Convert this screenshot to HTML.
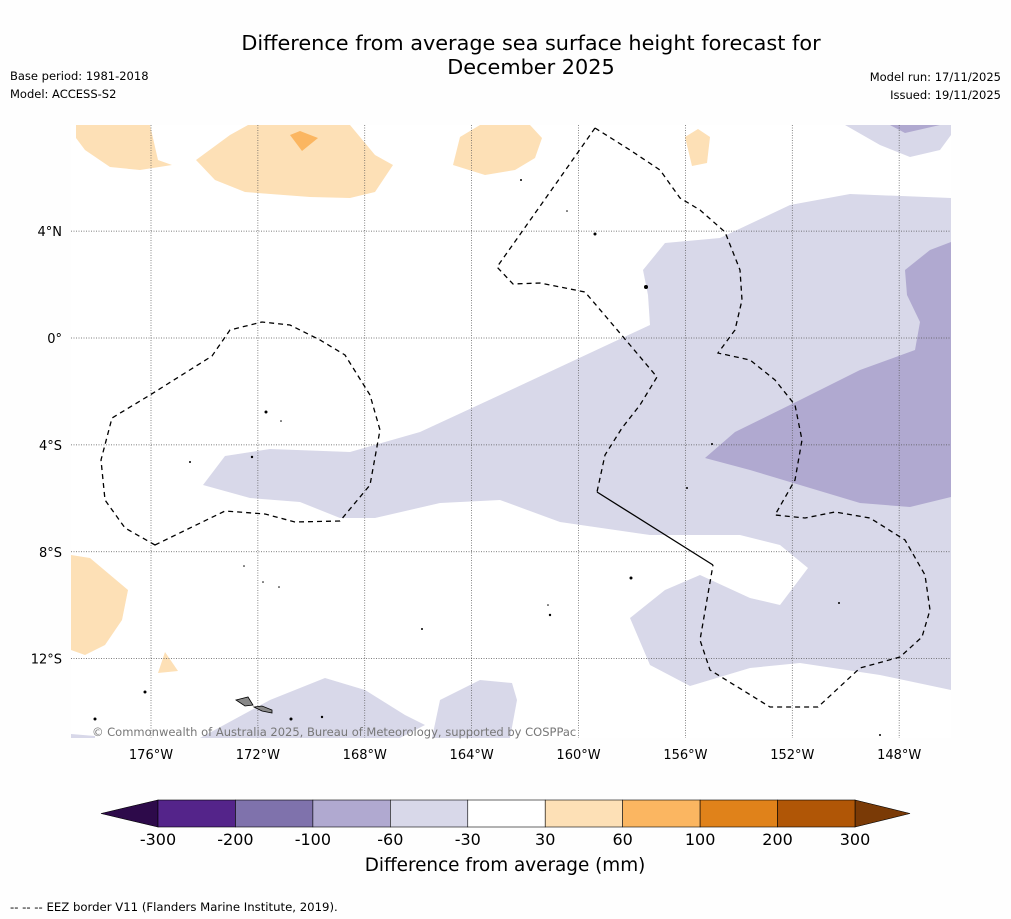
<!DOCTYPE html>
<html><head><meta charset="utf-8">
<style>
body{margin:0;background:#fefefe;font-family:"DejaVu Sans","Liberation Sans",sans-serif;}
svg{display:block;font-family:"DejaVu Sans","Liberation Sans",sans-serif;}
</style></head>
<body>
<svg width="1011" height="919" xmlns="http://www.w3.org/2000/svg">
<rect width="1011" height="919" fill="#fefefe"/>
<text x="531" y="50" font-size="20.8" text-anchor="middle" fill="#000">Difference from average sea surface height forecast for</text>
<text x="531" y="74" font-size="20.8" text-anchor="middle" fill="#000">December 2025</text>
<text x="10" y="80" font-size="11.5">Base period: 1981-2018</text>
<text x="10" y="98" font-size="11.5">Model: ACCESS-S2</text>
<text x="1001" y="81" font-size="11.5" text-anchor="end">Model run: 17/11/2025</text>
<text x="1001" y="99" font-size="11.5" text-anchor="end">Issued: 19/11/2025</text>

<g id="map">
<rect x="71" y="125" width="880" height="613" fill="#fff"/>
<clipPath id="mc"><rect x="71" y="125" width="880" height="613"/></clipPath>
<g clip-path="url(#mc)">
<path fill="#d8d8e9" d="M203,485 L225,456 L270,449 L350,452 L420,432 L500,395 L650,325 L648,295 L643,270 L665,243 L720,238 L790,205 L850,194 L951,198 L951,690 L880,675 L800,663 L750,668 L690,686 L650,665 L630,618 L665,590 L700,575 L750,598 L780,605 L808,568 L780,545 L740,535 L650,535 L560,522 L500,500 L440,503 L375,518 L340,518 L300,502 L250,498 Z"/>
<path fill="#b0a9d0" d="M705,458 L735,432 L800,400 L860,370 L915,350 L920,322 L907,295 L905,270 L930,250 L951,242 L951,497 L910,507 L860,503 L800,485 L750,470 Z"/>
<path fill="#d8d8e9" d="M775,125 L845,125 L880,145 L910,157 L940,150 L951,135 L951,125 Z"/>
<path fill="#b0a9d0" d="M890,125 L905,133 L940,125 Z"/>
<path fill="#d8d8e9" d="M200,738 L270,700 L325,678 L365,690 L405,715 L425,725 L400,738 Z"/>
<path fill="#d8d8e9" d="M432,738 L440,700 L480,680 L512,683 L517,700 L510,738 Z"/>
<path fill="#d8d8e9" d="M71,734 L95,736 L95,738 L71,738 Z"/>
<path fill="#fde0b6" d="M76,125 L150,125 L158,160 L172,165 L140,170 L110,167 L85,150 L76,138 Z"/>
<path fill="#fde0b6" d="M196,160 L230,135 L248,125 L350,125 L375,155 L393,165 L375,192 L350,198 L310,197 L245,192 L215,180 Z"/>
<path fill="#fbb661" d="M290,135 L300,131 L318,138 L302,151 Z"/>
<path fill="#fde0b6" d="M453,165 L460,137 L480,125 L530,125 L542,138 L535,158 L515,170 L485,175 Z"/>
<path fill="#fde0b6" d="M685,137 L698,129 L710,137 L707,163 L692,166 Z"/>
<path fill="#fde0b6" d="M71,555 L90,558 L128,590 L122,620 L105,645 L85,655 L71,650 Z"/>
<path fill="#fde0b6" d="M158,673 L165,652 L178,671 Z"/>
</g>
<g id="grid" stroke="#555" stroke-width="0.7" stroke-dasharray="1,1.5"></g>
<g fill="none" stroke="#000" stroke-width="1.3" stroke-dasharray="5,4">
<path d="M155,545 L225,511 L265,514 L295,522 L340,521 L370,485 L380,430 L370,395 L345,355 L320,340 L290,325 L262,322 L230,330 L212,356 L150,395 L112,418 L101,460 L105,500 L125,528 Z"/>
<path d="M595,128 L630,150 L660,170 L680,198 L700,210 L725,232 L740,270 L742,300 L735,330 L718,353 L750,360 L775,380 L795,405 L802,440 L795,480 L775,515 L805,518 L835,512 L870,518 L905,540 L925,575 L930,610 L922,637 L900,657 L860,668 L818,707 L770,707 L710,670 L700,640 L713,565"/>
<path d="M595,128 L555,185 L497,267 L513,284 L540,283 L585,292 L630,345 L657,377 L640,405 L622,428 L605,455 L597,492"/>
</g>
<path d="M597,492 L713,565" stroke="#000" stroke-width="1.3" fill="none"/>
<g fill="#000">
<path d="M236,700 L248,697 L253,705 L245,706 Z" fill="#888" stroke="#000" stroke-width="0.8"/>
<path d="M254,707 L262,706 L272,710 L272,713 L262,711 Z" fill="#888" stroke="#000" stroke-width="0.8"/>
<circle cx="145" cy="692" r="1.5"/><circle cx="95" cy="719" r="1.5"/><circle cx="291" cy="719" r="1.5"/><circle cx="322" cy="717" r="1.2"/>
<circle cx="266" cy="412" r="1.5"/><circle cx="252" cy="457" r="1.2"/><circle cx="190" cy="462" r="1"/><circle cx="595" cy="234" r="1.5"/>
<circle cx="646" cy="287" r="2"/><circle cx="631" cy="578" r="1.5"/><circle cx="550" cy="615" r="1.2"/><circle cx="712" cy="444" r="1"/>
<circle cx="687" cy="488" r="1"/><circle cx="422" cy="629" r="1"/><circle cx="839" cy="603" r="1"/><circle cx="521" cy="180" r="1"/>
<circle cx="567" cy="211" r="0.8"/><circle cx="281" cy="421" r="0.8"/><circle cx="279" cy="587" r="0.8"/><circle cx="263" cy="582" r="0.8"/>
<circle cx="548" cy="605" r="0.8"/><circle cx="244" cy="566" r="0.8"/><circle cx="880" cy="735" r="1"/>
</g>
<text x="92" y="736" font-size="11.5" fill="#777">© Commonwealth of Australia 2025, Bureau of Meteorology, supported by COSPPac</text>
<g id="axes" font-size="13" fill="#000"></g>
</g>

<g id="cbar"></g>
<text x="505" y="871" font-size="18.4" text-anchor="middle">Difference from average (mm)</text>
<text x="10" y="911" font-size="11.7">--  --  -- EEZ border V11 (Flanders Marine Institute, 2019).</text>
</svg>
<script>
const lonTicks=[-176,-172,-168,-164,-160,-156,-152,-148];
const latTicks=[4,0,-4,-8,-12];
const cbarLevels=[-300,-200,-100,-60,-30,30,60,100,200,300];
const cbarColors=["#54248a","#7f72ac","#b0a9d0","#d8d8e9","#ffffff","#fde0b6","#fbb661","#e0821a","#b05606"];
const cbarUnderColor="#2d0a4a", cbarOverColor="#7a3a06";
const NS="http://www.w3.org/2000/svg";
const xLon=l=>151+(l+176)*26.72;
const yLat=l=>338-l*26.72;
const grid=document.getElementById('grid'), axes=document.getElementById('axes'), cbar=document.getElementById('cbar');
function mk(tag,at,par){const e=document.createElementNS(NS,tag);for(const k in at)e.setAttribute(k,at[k]);par.appendChild(e);return e;}
lonTicks.forEach(l=>{
  const x=xLon(l);
  const g=mk('line',{x1:x,x2:x,y1:125,y2:738},grid);
  
  
  const t=mk('text',{x:x,y:759,'text-anchor':'middle'},axes);
  t.textContent=Math.abs(l)+'°W';
  
  
});
latTicks.forEach(l=>{
  const y=yLat(l);
  const g=mk('line',{x1:71,x2:951,y1:y,y2:y},grid);
  
  
  const t=mk('text',{x:62,y:y+5,'text-anchor':'end'},axes);
  t.textContent=l===0?'0°':Math.abs(l)+'°'+(l>0?'N':'S');
  
  
});
const cx0=158, cx1=855, n=cbarLevels.length-1;
const cbX=i=>cx0+(cx1-cx0)*i/n;
const y0=800,y1=827;
const under=mk('polygon',{points:`${cbX(0)},${y0} ${cbX(0)},${y1} 101,813.5`,fill:cbarUnderColor,stroke:'#000','stroke-width':0.6},cbar);


const over=mk('polygon',{points:`${cbX(n)},${y0} ${cbX(n)},${y1} 910,813.5`,fill:cbarOverColor,stroke:'#000','stroke-width':0.6},cbar);


cbarColors.forEach((c,i)=>{
  const r=mk('rect',{x:cbX(i),y:y0,width:cbX(i+1)-cbX(i),height:y1-y0,fill:c,stroke:'#000','stroke-width':0.6},cbar);
  
  
});
cbarLevels.forEach((v,i)=>{
  const t=mk('text',{x:cbX(i),y:845,'font-size':16,'text-anchor':'middle'},cbar);
  t.textContent=v;
  
  
});
</script>
</body></html>
